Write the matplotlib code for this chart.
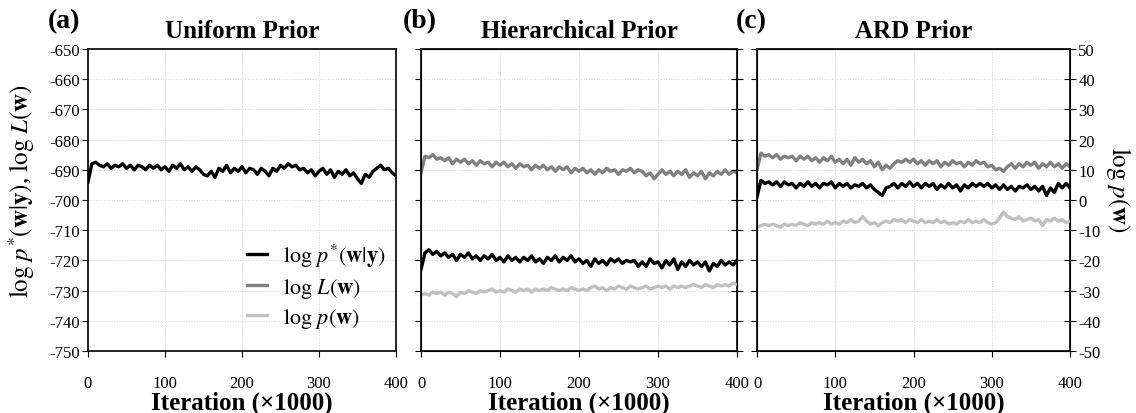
import numpy as np
import matplotlib
matplotlib.use("Agg")
import matplotlib.pyplot as plt

plt.rcParams['font.family'] = 'serif'
plt.rcParams['font.serif'] = ['Liberation Serif', 'DejaVu Serif']
plt.rcParams['mathtext.fontset'] = 'stix'
plt.rcParams['axes.unicode_minus'] = False

# iteration (x1000), one sample every 5k
iters = np.arange(0, 401, 5)

# (a) uniform prior: log p*(w|y)
uni_post = [-694, -688, -687.5, -688.5, -689, -688, -689.5, -688.5, -689, -688,
            -689.5, -688.5, -690, -688.5, -689, -690, -688.5, -689.5, -688.5, -690,
            -689, -690.5, -688.5, -689.5, -688, -690, -689, -690.5, -689, -690,
            -691.5, -692, -690.5, -692.5, -689.5, -690.5, -688.5, -691, -689.5, -690.5,
            -689, -691, -689.5, -690, -691.5, -689.5, -690.5, -692, -689.5, -690.5,
            -688.5, -689.5, -688, -689, -688.5, -690, -689.5, -691, -690, -692,
            -690.5, -689.5, -691.5, -690, -692.5, -690.5, -691.5, -690, -692, -691,
            -693, -694.5, -691.5, -692.5, -690.5, -689.5, -688.5, -690, -689.5, -691,
            -692]

# (b) hierarchical prior
hier_lik = [-691, -685.5, -686, -685, -686.5, -686, -687, -686, -688, -686.5,
            -687.5, -686.5, -688, -687, -688.5, -687, -688, -687.5, -689, -687.5,
            -688.5, -687.5, -689, -688, -689.5, -688, -689, -688.5, -690, -688.5,
            -689.5, -688.5, -690, -689, -690.5, -689, -690, -689, -691, -689.5,
            -690.5, -689.5, -691, -690, -691.5, -690, -691, -689.5, -690.5, -690,
            -691.5, -690, -690.5, -689.5, -691, -690, -690.5, -692, -691, -693,
            -691.5, -690, -691.5, -690.5, -692, -690.5, -691.5, -690, -692.5, -691,
            -692, -690.5, -693, -691, -692, -690.5, -691.5, -690, -691.5, -690.5,
            -691]
hier_post = [-723, -717.5, -716.5, -718, -717, -718.5, -717.5, -719, -718, -720,
             -718, -719, -717.5, -719.5, -718.5, -720, -718.5, -719.5, -718, -720,
             -719, -720.5, -718.5, -720, -719, -720.5, -719, -720, -718.5, -720.5,
             -719.5, -721, -719, -720, -718.5, -720.5, -719, -720, -718.5, -720.5,
             -719.5, -721, -720, -722, -719.5, -721, -720, -721.5, -719.5, -720.5,
             -719.5, -721, -720, -720.5, -720, -722, -720.5, -722, -719.5, -721,
             -720.5, -722.5, -720, -721.5, -719.5, -723, -720.5, -722, -720, -721.5,
             -720.5, -722, -720.5, -723.5, -721, -722, -720, -721.5, -720.5, -721.5,
             -720]
hier_prior = [-31.5, -31, -31.5, -30.5, -31, -30.5, -31.5, -30.5, -31, -32,
              -30.5, -31, -30, -30.5, -31, -30, -30.5, -30, -29.5, -30.5,
              -30, -30.5, -29.5, -30, -30.5, -29.5, -30, -29.5, -30.5, -29.5,
              -30, -29.5, -30, -29, -29.5, -30, -29.5, -30, -29, -29.5,
              -30, -29.5, -30, -29, -28.5, -29.5, -29, -30, -29, -29.5,
              -28.5, -29, -29.5, -28.5, -29, -29.5, -29, -28.5, -29.5, -29,
              -28.5, -29, -28.5, -29.5, -28.5, -29, -28.5, -29, -28.5, -28,
              -28.5, -29, -28, -28.5, -29, -28, -28.5, -28, -28.5, -27.5,
              -28]

# (c) ARD prior
ard_lik = [-690, -684.5, -685.5, -685, -686, -685, -686.5, -685.5, -686, -685.5,
           -687, -685.5, -686.5, -685.5, -687, -686, -687.5, -686, -687, -685.5,
           -687.5, -686.5, -688, -686.5, -688.5, -686, -687.5, -686.5, -688, -687,
           -689, -687.5, -690, -688.5, -689.5, -688, -687, -687.5, -686.5, -687.5,
           -686.5, -688, -687, -688.5, -687, -688, -687, -689, -687.5, -688.5,
           -687, -688, -687.5, -689, -687.5, -688.5, -687, -688, -687.5, -689,
           -688.5, -690, -689.5, -690.5, -689, -688, -689.5, -688, -689, -687.5,
           -688.5, -687.5, -689.5, -688, -689, -687.5, -689, -688, -689.5, -688,
           -689]
ard_post = [-699, -693.5, -694.5, -694, -695, -694, -695.5, -694, -695, -694.5,
            -696, -694.5, -695.5, -694, -695.5, -694.5, -696, -694.5, -695, -694,
            -696, -694.5, -695.5, -694.5, -696, -695, -695.5, -694.5, -696, -695,
            -696.5, -697.5, -698.5, -696, -695.5, -694.5, -696, -694.5, -695.5, -694,
            -695.5, -694.5, -696, -694.5, -695.5, -694.5, -696.5, -695, -696, -694.5,
            -696, -695, -697, -695, -696, -694.5, -695.5, -694.5, -695.5, -694.5,
            -696, -695, -696.5, -695, -696.5, -695.5, -697, -695.5, -696, -695,
            -696.5, -695.5, -697, -695.5, -698.5, -696, -697.5, -694.5, -696, -694.5,
            -696]
ard_prior = [-9, -8.5, -8, -8.5, -8, -8.5, -9, -8, -8.5, -8,
             -8.5, -7.5, -8, -8.5, -7.5, -8, -7.5, -8, -7, -8,
             -7.5, -8, -7, -7.5, -6.5, -7.5, -7, -5.5, -7, -8,
             -7.5, -8.5, -7.5, -7, -7.5, -6.5, -7, -6.5, -7.5, -6.5,
             -7, -7.5, -6.5, -7.5, -7, -7.5, -6.5, -7.5, -7, -8,
             -7.5, -8, -7, -7.5, -6.5, -7.5, -7, -7.5, -6.5, -7.5,
             -8, -7.5, -6, -4, -5.5, -6, -6.5, -5.5, -7, -6.5,
             -6, -7, -6.5, -8.5, -6.5, -7, -6, -7, -6.5, -7.5,
             -7]

c_post = 'black'
c_lik = '#808080'
c_prior = '#c0c0c0'
lw = 2.4

fig = plt.figure(figsize=(11.36, 4.14), dpi=100)
W, H = 1136.0, 414.0
boxes = [(88, 396), (421, 737), (757, 1070)]
letter_x = [48, 403, 736]
top, bot = 50, 352
axes = []
for (l, r) in boxes:
    ax = fig.add_axes([l / W, 1 - bot / H, (r - l) / W, (bot - top) / H])
    axes.append(ax)

titles = ['Uniform Prior', 'Hierarchical Prior', 'ARD Prior']
letters = ['(a)', '(b)', '(c)']

twins = []
for i, ax in enumerate(axes):
    ax.set_xlim(0, 400)
    ax.set_ylim(-750, -650)
    ax.set_xticks([0, 100, 200, 300, 400])
    ax.set_yticks(np.arange(-750, -649, 10))
    ax.grid(True, color='#d4d4d4', lw=0.7, ls=':')
    ax.set_axisbelow(True)
    ax.tick_params(axis='x', direction='out', length=4, pad=13, labelsize=12)
    ax.tick_params(axis='y', direction='out', length=4, labelsize=12, pad=2)
    for s in ax.spines.values():
        s.set_linewidth(1.2)
    ax.set_xlabel('Iteration (×1000)', fontsize=18, fontweight='bold', labelpad=0)
    ax.set_title(titles[i], fontsize=18, fontweight='bold', pad=9)
    fig.text(letter_x[i] / W, 1 - 22 / H, letters[i], fontsize=20, fontweight='bold',
             ha='left', va='center')
    if i > 0:
        ax.tick_params(axis='y', labelleft=False)
        tw = ax.twinx()
        tw.set_ylim(-50, 50)
        tw.set_yticks(np.arange(-50, 51, 10))
        tw.tick_params(axis='y', direction='inout', length=8, labelsize=12,
                       labelright=(i == 2), pad=2)
        twins.append(tw)

# (a)
axes[0].plot(iters, uni_post, color=c_post, lw=lw)
axes[0].set_ylabel(r'$\log\,p^{*}(\mathbf{w}|\mathbf{y})$, $\log\,L(\mathbf{w})$',
                   fontsize=18, va='center')
axes[0].yaxis.set_label_coords((22 - 88) / 308.0, (352 - 191) / 302.0)

# (b)
lb_prior, = twins[0].plot(iters, hier_prior, color=c_prior, lw=lw)
lb_lik, = axes[1].plot(iters, hier_lik, color=c_lik, lw=lw)
lb_post, = axes[1].plot(iters, hier_post, color=c_post, lw=lw)

# (c)
twins[1].plot(iters, ard_prior, color=c_prior, lw=lw)
axes[2].plot(iters, ard_lik, color=c_lik, lw=lw)
axes[2].plot(iters, ard_post, color=c_post, lw=lw)
twins[1].set_ylabel(r'$\log\,p(\mathbf{w})$', fontsize=18, rotation=270, va='center')
twins[1].yaxis.set_label_coords((1119 - 757) / 313.0, (352 - 190) / 302.0)

axes[0].legend([lb_post, lb_lik, lb_prior],
               [r'$\log\,p^{*}(\mathbf{w}|\mathbf{y})$', r'$\log\,L(\mathbf{w})$',
                r'$\log\,p(\mathbf{w})$'],
               loc='center left', bbox_to_anchor=((227 - 88) / 308.0, (352 - 287) / 302.0),
               frameon=False, fontsize=16, handlelength=0.9, handletextpad=0.7,
               labelspacing=0.3)

plt.savefig('out.png', dpi=100)
